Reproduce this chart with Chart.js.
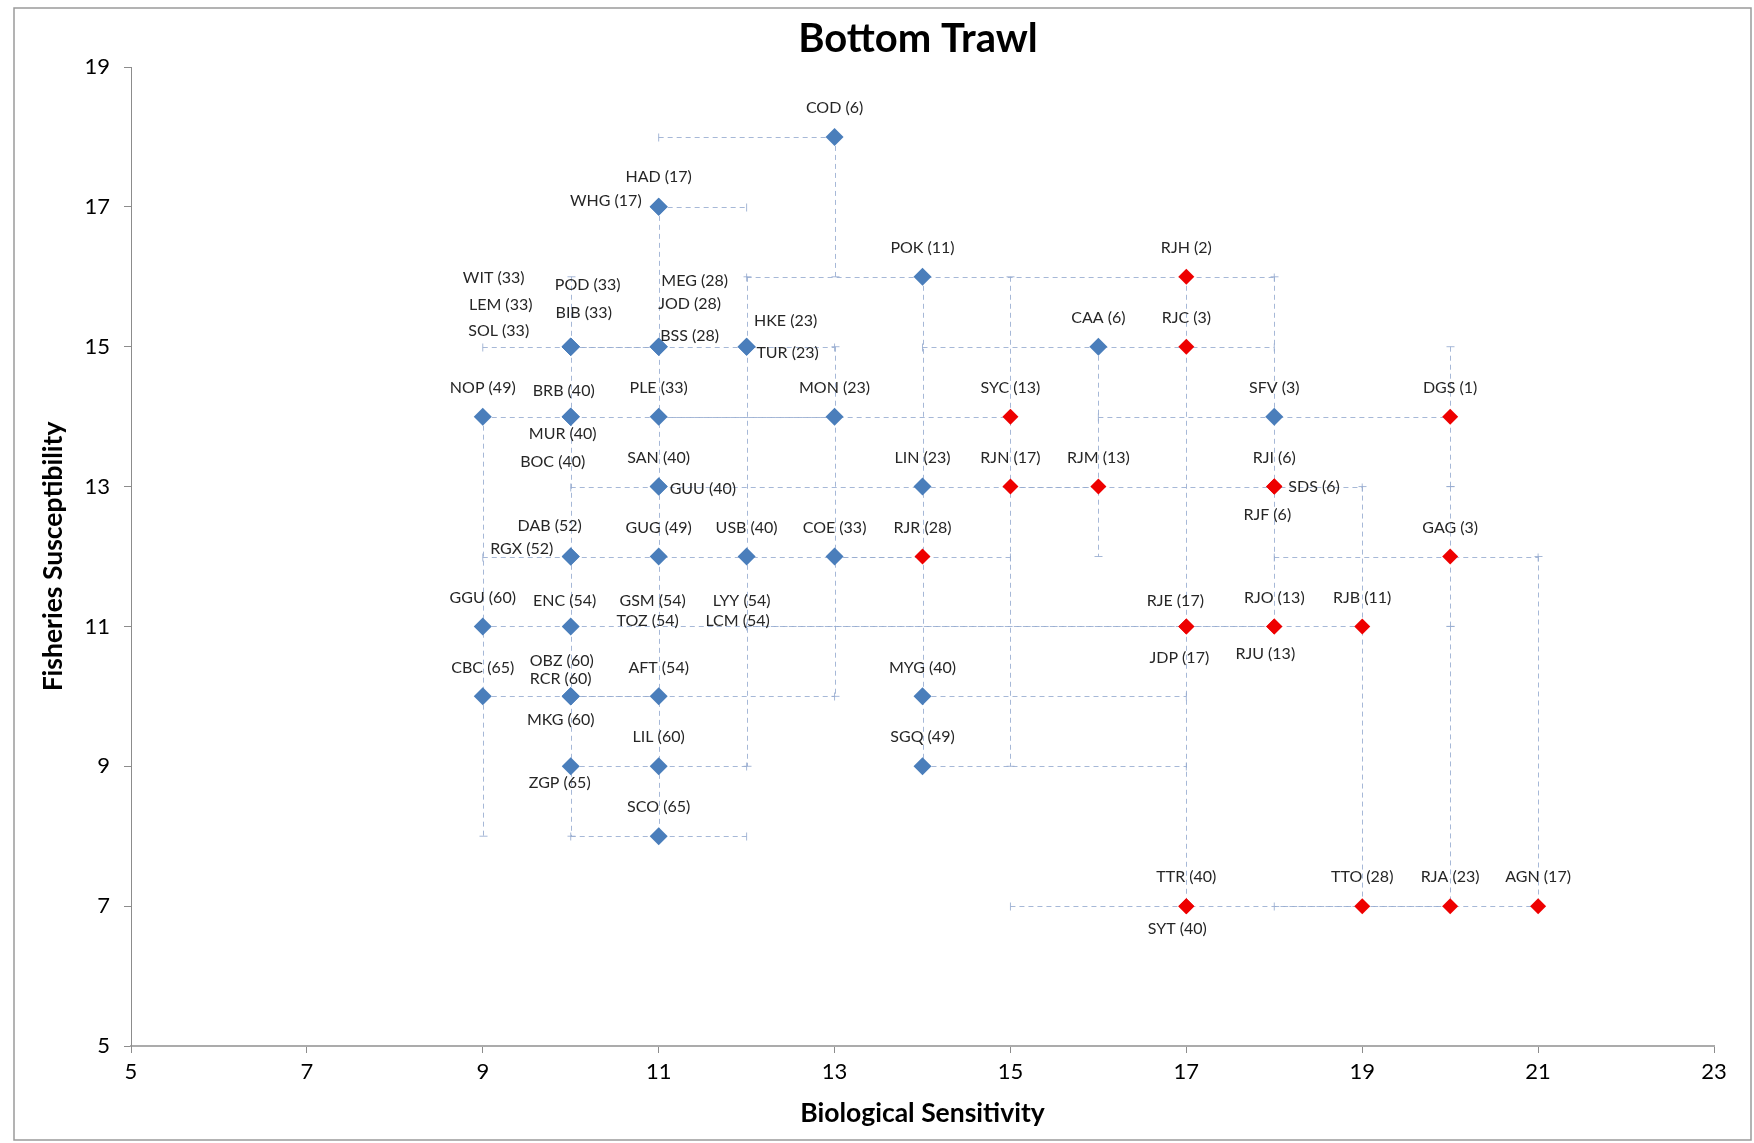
<!DOCTYPE html>
<html>
<head>
<meta charset="utf-8">
<title>Bottom Trawl</title>
<script src="https://cdn.jsdelivr.net/npm/chart.js@4.4.1/dist/chart.umd.min.js"></script>
<style>
  html, body { margin: 0; padding: 0; background: #ffffff; }
  #wrap { width: 1754px; height: 1143px; position: relative; }
</style>
</head>
<body>
<div id="wrap"><canvas id="psa" width="1754" height="1143"></canvas></div>
<script>
// ---- Teleost stocks (blue) ----
const blueCodes = ['COD','HAD','WHG','POK','WIT','LEM','SOL','POD','BIB','MEG','JOD','BSS','HKE','TUR','CAA',
  'NOP','BRB','MUR','BOC','PLE','MON','SFV','SAN','GUU','LIN','DAB','RGX','GUG','USB','COE',
  'GGU','ENC','GSM','TOZ','LYY','LCM','CBC','OBZ','RCR','MKG','AFT','MYG','ZGP','LIL','SGQ','SCO'];
const blueRanks = [6,17,17,11,33,33,33,33,33,28,28,28,23,23,6,
  49,40,40,40,33,23,3,40,40,23,52,52,49,40,33,
  60,54,54,54,54,54,65,60,60,60,54,40,65,60,49,65];
const blueBio = [13,11,11,14,10,10,10,10,10,11,11,11,12,12,16,
  9,10,10,10,11,13,18,11,11,14,10,10,11,12,13,
  9,10,11,11,12,12,9,10,10,10,11,14,10,11,14,11];
const blueFish = [18,17,17,16,15,15,15,15,15,15,15,15,15,15,15,
  14,14,14,14,14,14,14,13,13,13,12,12,12,12,12,
  11,11,11,11,11,11,10,10,10,10,10,10,9,9,9,8];

// ---- Elasmobranch stocks (red) ----
const redCodes = ['RJH','RJC','SYC','DGS','RJN','RJM','RJI','SDS','RJF','RJR','GAG',
  'RJE','JDP','RJO','RJU','RJB','TTR','SYT','TTO','RJA','AGN'];
const redRanks = [2,3,13,1,17,13,6,6,6,28,3,17,17,13,13,11,40,40,28,23,17];
const redBio = [17,17,15,20,15,16,18,18,18,14,20,17,17,18,18,19,17,17,19,20,21];
const redFish = [16,15,14,14,13,13,13,13,13,12,12,11,11,11,11,11,7,7,7,7,7];

// Stocks plotted without a marker of their own
const unmarkedCodes = ['GSM','TOZ','LYY','LCM'];

// ---- Axis ticks ----
const xTicks = [5,7,9,11,13,15,17,19,21,23];
const yTicks = [5,7,9,11,13,15,17,19];

// ---- Linking ranges: horizontal [y, xFrom, xTo] and vertical [x, yFrom, yTo] ----
const hLinks = [
  [18,11,13],[17,11,12],[16,12,18],
  [15,9,11],[15,10,13],[15,14,18],
  [14,9,13],[14,11,15],[14,16,20],
  [13,10,16],[13,15,19],
  [12,9,14],[12,13,15],[12,18,21],
  [11,9,18],[11,12,19],
  [10,9,11],[10,10,13],[10,14,17],
  [9,10,12],[9,14,17],
  [8,10,12],
  [7,15,20],[7,18,21]
];
const vLinks = [
  [9,14,8],[10,16,8],[11,17,8],[12,16,9],
  [13,18,16],[13,15,10],[14,16,9],[15,16,9],[16,15,12],
  [17,16,7],[18,16,11],[19,13,7],
  [20,15,13],[20,13,11],[20,11,7],[21,12,7]
];

// Label placement around each marker (pixels); unlisted labels sit centred above
const labelPlacement = {
  HAD:[0,-30], WHG:[-17,-6,'right'],
  WIT:[-77,-69], LEM:[-70,-42], SOL:[-72,-16], POD:[17,-62], BIB:[13,-34],
  MEG:[36,-66], JOD:[31,-43], BSS:[31,-11], HKE:[39,-26], TUR:[41,6],
  BRB:[-7,-26], MUR:[-8,17], BOC:[-18,45],
  GUU:[11,2,'left'], SDS:[14,0,'left'], RJF:[-7,28],
  DAB:[-21,-31], RGX:[-49,-8],
  ENC:[-6,-26], GSM:[-6,-26], TOZ:[-11,-6], LYY:[-5,-26], LCM:[-9,-6],
  RJE:[-11,-26], JDP:[-7,31], RJU:[-9,27],
  OBZ:[-9,-36], RCR:[-10,-18], MKG:[-10,23], ZGP:[-11,17], SYT:[-9,23]
};

const FONT = 'Lato, "Open Sans", "DejaVu Sans", sans-serif';

function toPoints(bx, fy, codes, ranks) {
  return bx.map((v, i) => ({ x: v, y: fy[i], code: codes[i], rank: ranks[i] }));
}

const linkPlugin = {
  id: 'links',
  beforeDraw(chart) {
    const ctx = chart.ctx;
    ctx.save();
    ctx.strokeStyle = '#9a9a9a';
    ctx.lineWidth = 1.5;
    ctx.strokeRect(14, 8, 1737, 1132);
    ctx.restore();
  },
  beforeDatasetsDraw(chart) {
    const ctx = chart.ctx, xs = chart.scales.x, ys = chart.scales.y;
    const cap = 4;
    ctx.save();
    ctx.strokeStyle = 'rgba(150,172,208,0.85)';
    ctx.lineWidth = 1;
    hLinks.forEach(([y, a, b]) => {
      const py = Math.round(ys.getPixelForValue(y)) + 0.5;
      const p1 = xs.getPixelForValue(a), p2 = xs.getPixelForValue(b);
      ctx.setLineDash([5, 4]);
      ctx.beginPath(); ctx.moveTo(p1, py); ctx.lineTo(p2, py); ctx.stroke();
      ctx.setLineDash([]);
      ctx.beginPath();
      ctx.moveTo(p1, py - cap); ctx.lineTo(p1, py + cap);
      ctx.moveTo(p2, py - cap); ctx.lineTo(p2, py + cap);
      ctx.stroke();
    });
    vLinks.forEach(([x, a, b]) => {
      const px = Math.round(xs.getPixelForValue(x)) + 0.5;
      const p1 = ys.getPixelForValue(a), p2 = ys.getPixelForValue(b);
      ctx.setLineDash([5, 4]);
      ctx.beginPath(); ctx.moveTo(px, p1); ctx.lineTo(px, p2); ctx.stroke();
      ctx.setLineDash([]);
      ctx.beginPath();
      ctx.moveTo(px - cap, p1); ctx.lineTo(px + cap, p1);
      ctx.moveTo(px - cap, p2); ctx.lineTo(px + cap, p2);
      ctx.stroke();
    });
    ctx.restore();
  },
  afterDatasetsDraw(chart) {
    const ctx = chart.ctx;
    ctx.save();
    ctx.font = '16px ' + FONT;
    ctx.fillStyle = '#262626';
    ctx.textBaseline = 'middle';
    chart.data.datasets.forEach((ds, di) => {
      const meta = chart.getDatasetMeta(di);
      ds.data.forEach((pt, i) => {
        const el = meta.data[i];
        const pl = labelPlacement[pt.code] || [0, -29];
        ctx.textAlign = pl[2] || 'center';
        ctx.fillText(pt.code + ' (' + pt.rank + ')', el.x + pl[0], el.y + pl[1]);
      });
    });
    // chart title
    ctx.font = 'bold 40px ' + FONT;
    ctx.fillStyle = '#000000';
    ctx.textAlign = 'center';
    ctx.fillText('Bottom Trawl', 918, 39);
    ctx.restore();
  }
};

const markerRadius = (base) => (c) => (unmarkedCodes.includes(c.raw && c.raw.code) ? 0 : base);

new Chart(document.getElementById('psa'), {
  type: 'scatter',
  data: {
    datasets: [
      {
        label: 'Teleosts',
        data: toPoints(blueBio, blueFish, blueCodes, blueRanks),
        pointStyle: 'rectRot',
        backgroundColor: '#4A7EBB',
        borderColor: '#4A7EBB',
        borderWidth: 0,
        pointRadius: markerRadius(9)
      },
      {
        label: 'Elasmobranchs',
        data: toPoints(redBio, redFish, redCodes, redRanks),
        pointStyle: 'rectRot',
        backgroundColor: '#EE0000',
        borderColor: '#EE0000',
        borderWidth: 0,
        pointRadius: markerRadius(8)
      }
    ]
  },
  options: {
    responsive: false,
    devicePixelRatio: 1,
    animation: false,
    layout: { padding: { left: 0, right: 40, top: 67, bottom: 0 } },
    plugins: { legend: { display: false }, tooltip: { enabled: false }, title: { display: false } },
    scales: {
      x: {
        type: 'linear',
        min: xTicks[0], max: xTicks[xTicks.length - 1],
        afterBuildTicks: (s) => { s.ticks = xTicks.map(v => ({ value: v })); },
        afterFit: (s) => { s.height = 97; },
        ticks: { font: { family: FONT, size: 22 }, color: '#000', padding: 6 },
        grid: { display: true, drawOnChartArea: false, drawTicks: true, tickLength: 7, tickColor: '#8c8c8c' },
        border: { color: '#ababab', width: 2 },
        title: { display: true, text: 'Biological Sensitivity', color: '#000',
                 font: { family: FONT, size: 26.5, weight: 'bold' }, padding: { top: 0, bottom: 14 } }
      },
      y: {
        type: 'linear',
        min: yTicks[0], max: yTicks[yTicks.length - 1],
        afterBuildTicks: (s) => { s.ticks = yTicks.map(v => ({ value: v })); },
        afterFit: (s) => { s.width = 131; },
        ticks: { font: { family: FONT, size: 22 }, color: '#000', padding: 14 },
        grid: { display: true, drawOnChartArea: false, drawTicks: true, tickLength: 7, tickColor: '#8c8c8c' },
        border: { color: '#8c8c8c', width: 1 },
        title: { display: true, text: 'Fisheries Susceptibility', color: '#000',
                 font: { family: FONT, size: 26.5, weight: 'bold' }, padding: { top: 38, bottom: 0 } }
      }
    }
  },
  plugins: [linkPlugin]
});
</script>
</body>
</html>
